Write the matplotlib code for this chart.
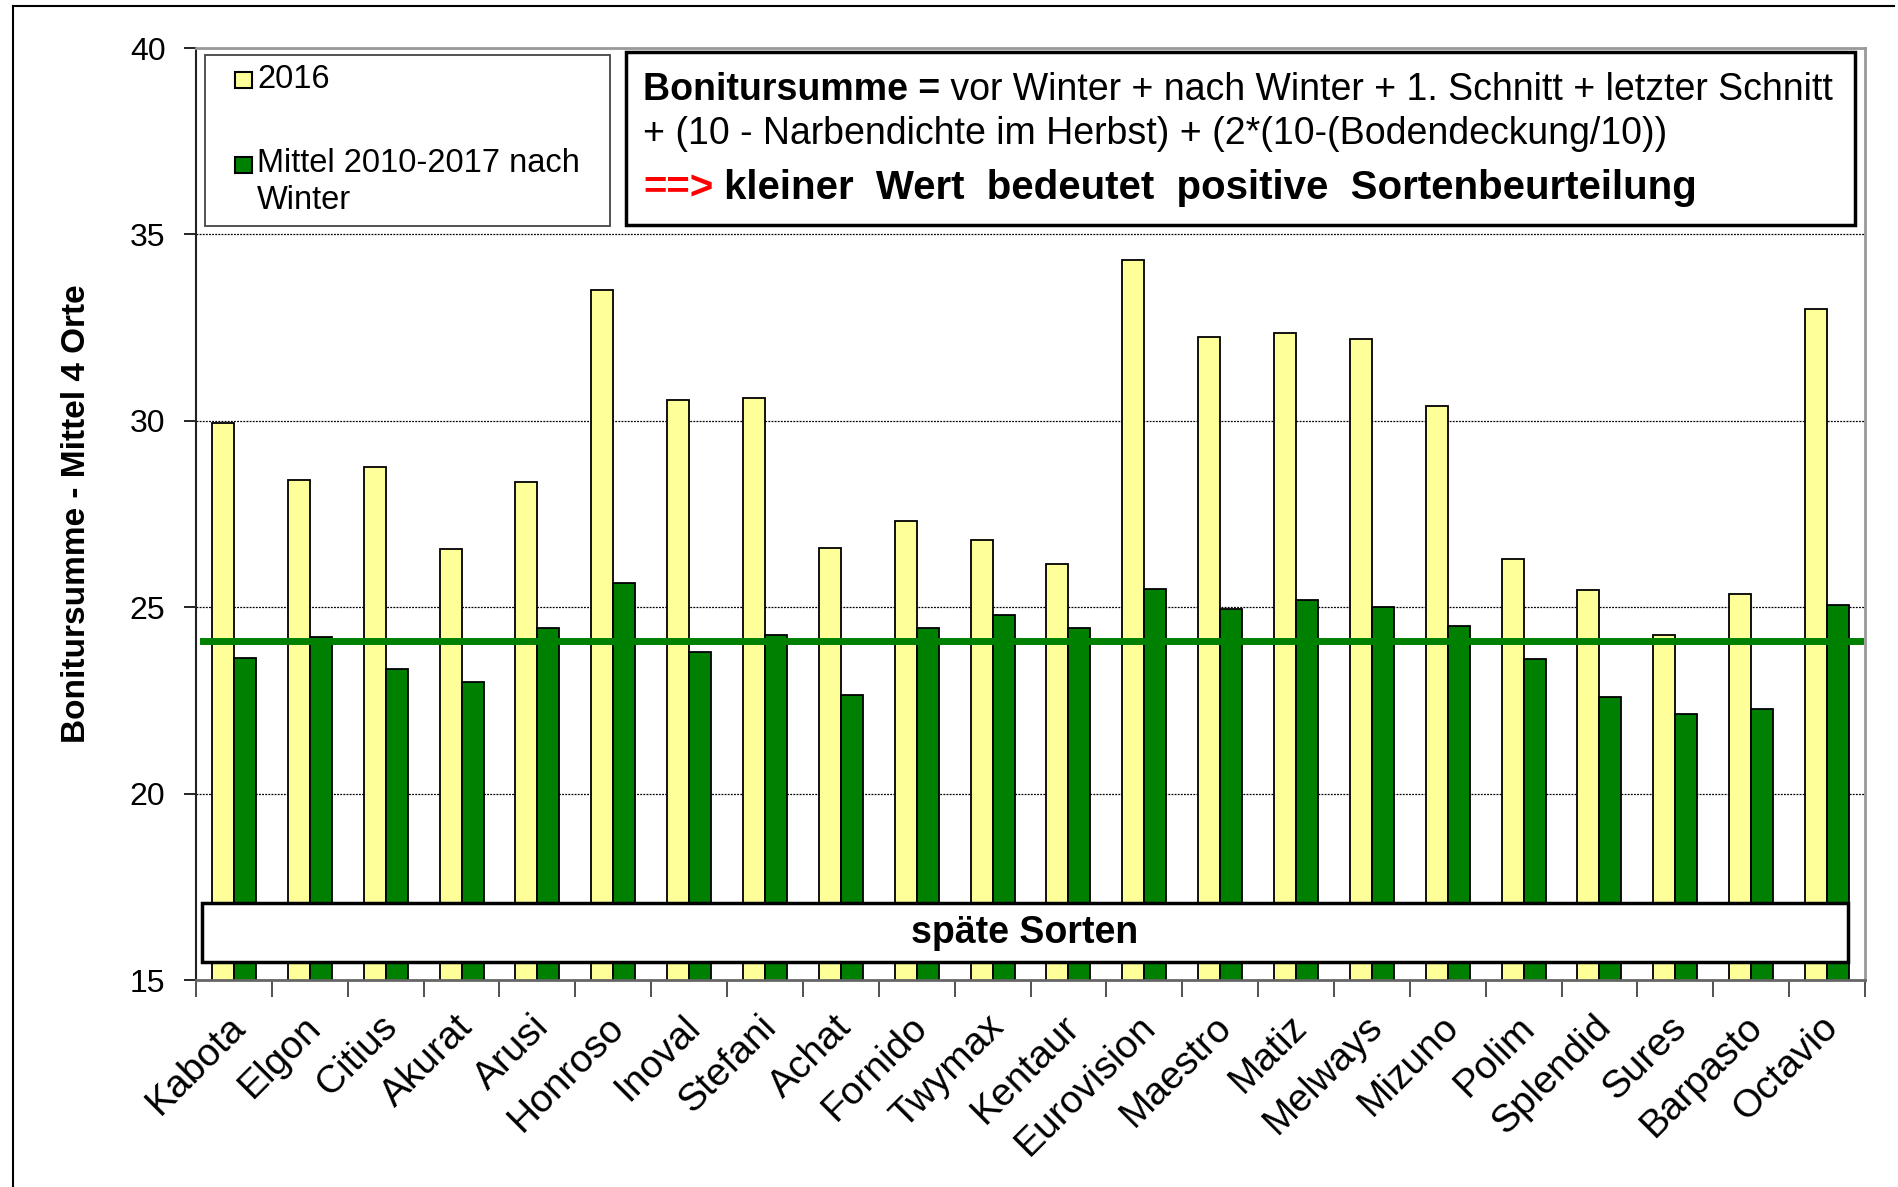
import numpy as np
import matplotlib
matplotlib.use("Agg")
import matplotlib.pyplot as plt
from matplotlib.patches import Rectangle
from matplotlib.lines import Line2D
from matplotlib.transforms import ScaledTranslation

plt.rcParams['font.family'] = ['Liberation Sans', 'DejaVu Sans']

sorten = ["Kabota", "Elgon", "Citius", "Akurat", "Arusi", "Honroso", "Inoval",
          "Stefani", "Achat", "Fornido", "Twymax", "Kentaur", "Eurovision",
          "Maestro", "Matiz", "Melways", "Mizuno", "Polim", "Splendid", "Sures",
          "Barpasto", "Octavio"]
werte_2016 = [29.95, 28.4, 28.75, 26.55, 28.35, 33.5, 30.55, 30.6, 26.6, 27.3,
              26.8, 26.15, 34.3, 32.25, 32.35, 32.2, 30.4, 26.3, 25.45, 24.25,
              25.35, 33.0]
mittel_2010_2017 = [23.65, 24.2, 23.35, 23.0, 24.45, 25.65, 23.8, 24.25, 22.65,
                    24.45, 24.8, 24.45, 25.5, 24.95, 25.2, 25.0, 24.5, 23.6,
                    22.58, 22.13, 22.28, 25.05]
mittelwert_linie = 24.1

W, H = 1899, 1187
gelb = "#FFFF99"
gruen = "#008000"


def fx(x):
    return x / W


def fy(y):
    return 1 - y / H


fig = plt.figure(figsize=(W / 100, H / 100), dpi=100)
ax = fig.add_axes([fx(196), fy(980), fx(1865) - fx(196), fy(48) - fy(980)])

x = np.arange(len(sorten))
bw = 0.29
ax.bar(x - bw / 2, werte_2016, bw, color=gelb, edgecolor="black", linewidth=1.3, zorder=2)
ax.bar(x + bw / 2, mittel_2010_2017, bw, color=gruen, edgecolor="black", linewidth=1.3, zorder=2)
ax.axhline(mittelwert_linie, xmin=0.004, xmax=0.997, color=gruen, linewidth=5, zorder=3)

ax.set_xlim(-0.5, len(sorten) - 0.5)
ax.set_ylim(15, 40)
ax.set_yticks([15, 20, 25, 30, 35, 40])
ax.yaxis.grid(True, linestyle=(0, (1.5, 1.0)), color="black", linewidth=0.9, zorder=1)
ax.set_axisbelow(True)

ax.set_xticks(x)
ax.set_xticklabels(sorten, rotation=45, ha="right", va="center", rotation_mode="anchor", fontsize=28)
ax.set_xticks(np.arange(-0.5, len(sorten)), minor=True)
ax.tick_params(axis="x", which="major", length=0, pad=30)
ax.tick_params(axis="x", which="minor", length=12, width=1.2, direction="out", color="#333333")
ax.tick_params(axis="y", length=9, width=1.2, direction="out", labelsize=23, pad=13)
off = ScaledTranslation(4 / 72, 0, fig.dpi_scale_trans)
for lab in ax.get_xticklabels():
    lab.set_transform(lab.get_transform() + off)

ax.set_ylabel("Bonitursumme - Mittel 4 Orte", fontsize=24, fontweight="bold")
ax.yaxis.set_label_coords((92 - 196) / (1865 - 196), 0.5)

for s in ["top", "right"]:
    ax.spines[s].set_color("#999999")
    ax.spines[s].set_linewidth(2)
ax.spines["left"].set_color("#222222")
ax.spines["left"].set_linewidth(1.5)
ax.spines["bottom"].set_color("#666666")
ax.spines["bottom"].set_linewidth(2)

# Band "späte Sorten"
band = Rectangle((fx(202), fy(962)), fx(1848) - fx(202), fy(903) - fy(962), transform=fig.transFigure,
                 facecolor="white", edgecolor="black", linewidth=2.5, zorder=5)
fig.add_artist(band)
fig.text(fx(1025), fy(933), "späte Sorten", fontsize=27, fontweight="bold", ha="center", va="center", zorder=6)

# Legende
leg = Rectangle((fx(205), fy(226)), fx(610) - fx(205), fy(55) - fy(226), transform=fig.transFigure,
                facecolor="white", edgecolor="#444444", linewidth=1.3, zorder=5)
fig.add_artist(leg)
for yc, col in [(80, gelb), (165, gruen)]:
    sq = Rectangle((fx(235), fy(yc + 8)), fx(252) - fx(235), fy(yc - 8) - fy(yc + 8), transform=fig.transFigure,
                   facecolor=col, edgecolor="black", linewidth=1.5, zorder=6)
    fig.add_artist(sq)
fig.text(fx(257), fy(79), "2016", fontsize=23.5, ha="left", va="center", zorder=6)
fig.text(fx(257), fy(164), "Mittel 2010-2017 nach", fontsize=23.5, ha="left", va="center", zorder=6)
fig.text(fx(257), fy(201), "Winter", fontsize=23.5, ha="left", va="center", zorder=6)

# Textbox mit Formel
tb = Rectangle((fx(626), fy(225)), fx(1855) - fx(626), fy(52) - fy(225), transform=fig.transFigure,
               facecolor="white", edgecolor="black", linewidth=2.5, zorder=5)
fig.add_artist(tb)

renderer = fig.canvas.get_renderer()


def textreihe(teile, x0, y0):
    xpos = x0
    for txt, kw in teile:
        t = fig.text(fx(xpos), fy(y0), txt, ha="left", va="center", zorder=6, **kw)
        bb = t.get_window_extent(renderer)
        xpos += bb.width


textreihe([("Bonitursumme =", dict(fontsize=27, fontweight="bold")),
           (" vor Winter + nach Winter + 1. Schnitt + letzter Schnitt", dict(fontsize=27))], 643, 90)
textreihe([("+ (10 - Narbendichte im Herbst) + (2*(10-(Bodendeckung/10))", dict(fontsize=27))], 643, 134)
textreihe([("==>", dict(fontsize=29, fontweight="bold", color="red")),
           (" kleiner  Wert  bedeutet  positive  Sortenbeurteilung", dict(fontsize=29, fontweight="bold"))],
          643, 188)

# Rahmen
fig.add_artist(Line2D([fx(13), fx(13)], [fy(6), 0], transform=fig.transFigure, color="black", linewidth=1.5))
fig.add_artist(Line2D([fx(13), fx(1894)], [fy(6), fy(6)], transform=fig.transFigure, color="black", linewidth=1.5))

fig.savefig("out.png", dpi=100)
